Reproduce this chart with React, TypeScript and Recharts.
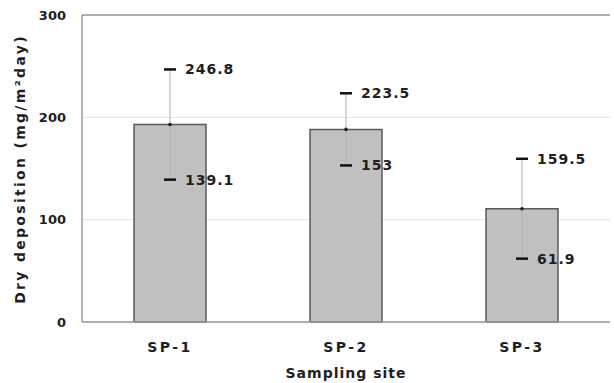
import {
  Bar,
  CartesianGrid,
  ComposedChart,
  ErrorBar,
  LabelList,
  Line,
  ReferenceLine,
  XAxis,
  YAxis,
} from 'recharts';

const sites = ['SP-1', 'SP-2', 'SP-3'];
const means = [193, 188.2, 110.7];
const maxs = [246.8, 223.5, 159.5];
const mins = [139.1, 153, 61.9];
const yTicks = [0, 100, 200, 300];

const FONT = '"DejaVu Sans", "Liberation Sans", Arial, sans-serif';
const FRAME = '#9a9a9a';

const data = sites.map((site, i) => ({
  site,
  mean: means[i],
  max: maxs[i],
  min: mins[i],
  err: [means[i] - mins[i], maxs[i] - means[i]],
}));

// short black dash used for the max / min markers
function Dash(props: any) {
  const { cx, cy, index } = props;
  if (cx == null || cy == null) return <g key={`d-${index}`} />;
  return (
    <line
      key={`d-${index}`}
      x1={cx - 6}
      x2={cx + 6}
      y1={cy}
      y2={cy}
      stroke="#111"
      strokeWidth={2.5}
    />
  );
}

function MeanDot(props: any) {
  const { cx, cy, index } = props;
  if (cx == null || cy == null) return <g key={`m-${index}`} />;
  return <circle key={`m-${index}`} cx={cx} cy={cy} r={1.8} fill="#222" />;
}

const base = { fontWeight: 700, fill: '#1e1e1e', fontFamily: FONT };
const valueStyle = { ...base, fontSize: 14, letterSpacing: 1 };
const catStyle = { ...base, fontSize: 14, letterSpacing: 2.5 };
const yTickStyle = { ...base, fontSize: 13 };
const titleStyle = { ...base, fontSize: 14, letterSpacing: 1 };
const yTitleStyle = { ...base, fontSize: 14, letterSpacing: 2.3 };

export default function App() {
  return (
    <div style={{ position: 'fixed', left: 0, top: 0, background: '#fff' }}>
      <ComposedChart
        width={614}
        height={383}
        data={data}
        margin={{ top: 15, right: 4, left: 0, bottom: 0 }}
        style={{ fontFamily: FONT }}
      >
        <CartesianGrid vertical={false} stroke="#e2e2e2" strokeWidth={1} />
        <XAxis
          dataKey="site"
          height={61}
          tickLine={false}
          tickSize={0}
          tickMargin={20}
          axisLine={{ stroke: FRAME, strokeWidth: 1.5 }}
          tick={catStyle}
          label={{
            content: () => (
              <text x={346} y={378} textAnchor="middle" style={titleStyle}>
                Sampling site
              </text>
            ),
          }}
        />
        <YAxis
          width={82}
          domain={[0, 300]}
          ticks={yTicks}
          tickLine={false}
          tickSize={0}
          tickMargin={16}
          axisLine={{ stroke: FRAME, strokeWidth: 1.5 }}
          tick={yTickStyle}
          label={{
            content: () => (
              <text
                x={20}
                y={169}
                textAnchor="middle"
                dominantBaseline="central"
                transform="rotate(-90 20 169)"
                style={yTitleStyle}
              >
                Dry deposition (mg/m²day)
              </text>
            ),
          }}
        />
        <YAxis
          yAxisId="frame"
          orientation="right"
          width={0}
          tick={false}
          tickLine={false}
          axisLine={{ stroke: FRAME, strokeWidth: 1.5 }}
        />
        <ReferenceLine y={300} stroke={FRAME} strokeWidth={1.5} />
        <Bar
          dataKey="mean"
          barSize={72}
          fill="#c0c0c0"
          stroke="#5a5a5a"
          strokeWidth={1.5}
          isAnimationActive={false}
        >
          <ErrorBar dataKey="err" direction="y" width={0} stroke="#b0b0b0" strokeWidth={1} />
        </Bar>
        <Line
          dataKey="mean"
          stroke="none"
          dot={MeanDot}
          activeDot={false}
          isAnimationActive={false}
        />
        <Line
          dataKey="max"
          stroke="none"
          dot={Dash}
          activeDot={false}
          isAnimationActive={false}
        >
          <LabelList dataKey="max" position="right" offset={15} style={valueStyle} />
        </Line>
        <Line
          dataKey="min"
          stroke="none"
          dot={Dash}
          activeDot={false}
          isAnimationActive={false}
        >
          <LabelList dataKey="min" position="right" offset={15} style={valueStyle} />
        </Line>
      </ComposedChart>
    </div>
  );
}
